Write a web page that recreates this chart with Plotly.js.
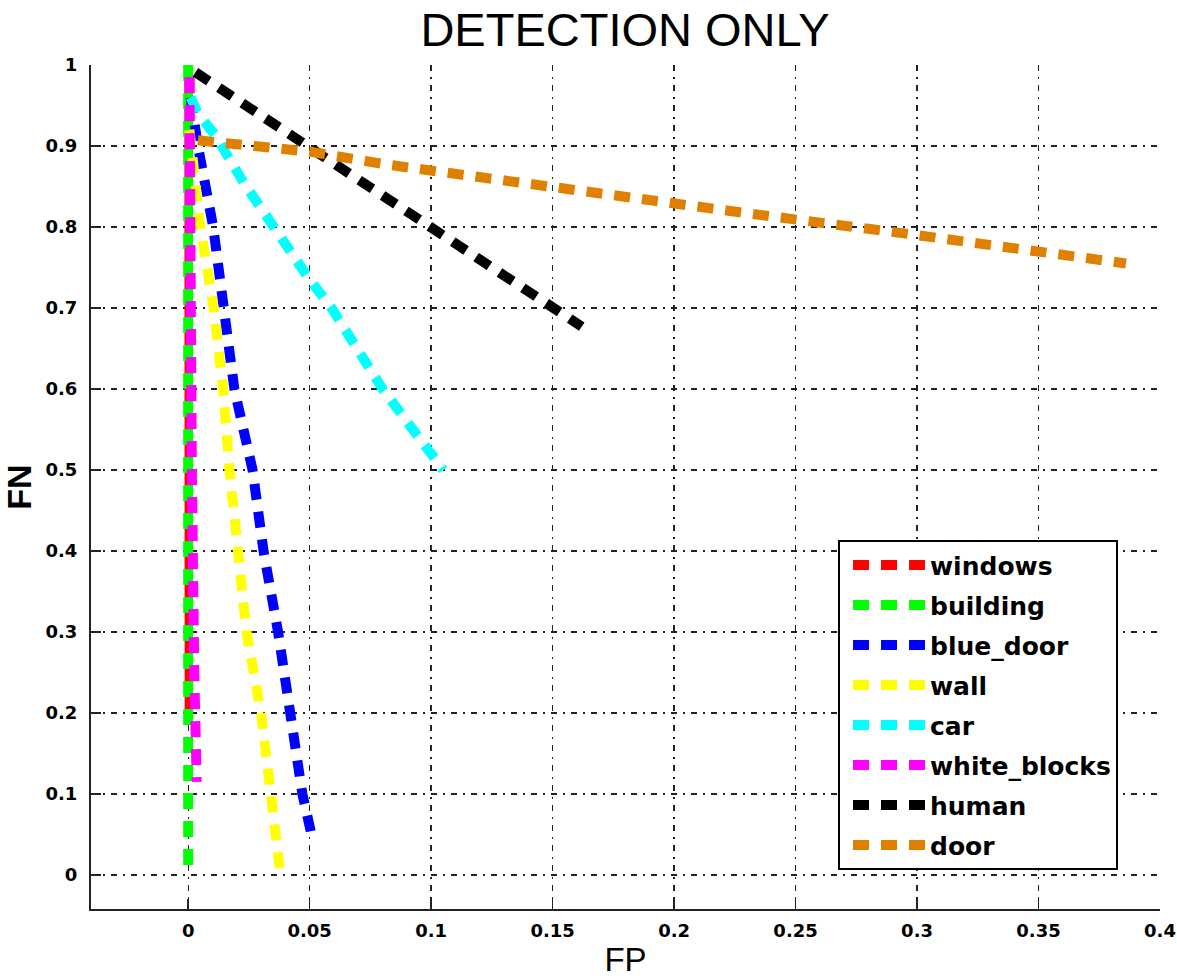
<!DOCTYPE html>
<html>
<head>
<meta charset="utf-8">
<script src="https://cdn.plot.ly/plotly-3.0.1.min.js"></script>
<style>html,body{margin:0;padding:0;background:#fff;}</style>
</head>
<body>
<div id="chart" style="width:1177px;height:978px;"></div>
<script>
// Series names and colours
const seriesNames = ["windows", "building", "blue_door", "wall", "car", "white_blocks", "human", "door"];
const seriesColors = ["#ff0000", "#00ff00", "#0000ff", "#ffff00", "#00ffff", "#ff00ff", "#000000", "#e08000"];

// Values (FP, FN)
const windowsFP = [0.0005, 0.0005, 0.0006, 0.0006];
const windowsFN = [0.985, 0.7, 0.4, 0.195];
const buildingFP = [0, 0, 0];
const buildingFN = [1, 0.5, 0];
const blueDoorFP = [0.001, 0.004, 0.0103, 0.015, 0.019, 0.0265, 0.031, 0.037, 0.042, 0.047, 0.0515];
const blueDoorFN = [0.96, 0.9, 0.8, 0.7, 0.6, 0.5, 0.4, 0.3, 0.2, 0.1, 0.04];
const wallFP = [0.0005, 0.005, 0.0105, 0.0144, 0.017, 0.021, 0.024, 0.030, 0.0337, 0.038];
const wallFN = [0.92, 0.8, 0.7, 0.6, 0.5, 0.4, 0.3, 0.2, 0.1, 0.0];
const carFP = [0.001, 0.004, 0.011, 0.023, 0.05, 0.059, 0.08, 0.105];
const carFN = [0.96, 0.94, 0.914, 0.854, 0.735, 0.7, 0.6, 0.5];
const whiteBlocksFP = [0.0005, 0.0008, 0.0015, 0.0025, 0.0035];
const whiteBlocksFN = [0.985, 0.75, 0.5, 0.25, 0.115];
const humanFP = [0.003, 0.05, 0.082, 0.103, 0.150, 0.162];
const humanFN = [0.991, 0.898, 0.836, 0.796, 0.700, 0.677];
const doorFP = [0.004, 0.02, 0.05, 0.082, 0.148, 0.23, 0.30, 0.386];
const doorFN = [0.907, 0.902, 0.893, 0.877, 0.849, 0.817, 0.790, 0.755];

// Tick labels
const xTickVals = [0, 0.05, 0.1, 0.15, 0.2, 0.25, 0.3, 0.35, 0.4];
const xTickText = ["0", "0.05", "0.1", "0.15", "0.2", "0.25", "0.3", "0.35", "0.4"];
const yTickVals = [0, 0.1, 0.2, 0.3, 0.4, 0.5, 0.6, 0.7, 0.8, 0.9, 1];
const yTickText = ["0", "0.1", "0.2", "0.3", "0.4", "0.5", "0.6", "0.7", "0.8", "0.9", "1"];

const xs = [windowsFP, buildingFP, blueDoorFP, wallFP, carFP, whiteBlocksFP, humanFP, doorFP];
const ys = [windowsFN, buildingFN, blueDoorFN, wallFN, carFN, whiteBlocksFN, humanFN, doorFN];

const traces = seriesNames.map((n, i) => ({
  type: "scatter",
  mode: "lines",
  name: n,
  legendgroup: n,
  x: xs[i],
  y: ys[i],
  line: {color: seriesColors[i], width: 10, dash: "16px,12px"}
}));

const gridStyle = {
  showgrid: true,
  gridcolor: "#222",
  gridwidth: 1.3,
  griddash: "6px,6px,2px,6px",
  zeroline: false,
  showline: true,
  linecolor: "#222",
  linewidth: 2,
  mirror: false,
  ticks: "inside",
  ticklen: 10,
  tickwidth: 1.5,
  tickcolor: "#222",
  tickfont: {family: "DejaVu Sans", size: 18, color: "#000", weight: "bold"}
};

const layout = {
  width: 1177,
  height: 978,
  margin: {l: 91, r: 17, t: 65, b: 69},
  paper_bgcolor: "#fff",
  plot_bgcolor: "#fff",
  showlegend: true,
  title: {
    text: "DETECTION ONLY",
    font: {family: "Liberation Sans", size: 47, color: "#000"},
    x: 0.531, xanchor: "center",
    y: 0.97, yref: "container", yanchor: "middle"
  },
  xaxis: Object.assign({}, gridStyle, {
    range: [-0.04, 0.4],
    tickvals: xTickVals,
    ticktext: xTickText,
    ticklabelstandoff: 4,
    title: {text: "FP", font: {family: "Liberation Sans", size: 33, color: "#000"}, standoff: 10}
  }),
  yaxis: Object.assign({}, gridStyle, {
    range: [-0.042, 1],
    tickvals: yTickVals,
    ticktext: yTickText,
    ticklabelstandoff: 8,
    title: {text: "FN", font: {family: "Liberation Sans", size: 34, color: "#000", weight: "bold"}, standoff: 14}
  }),
  legend: {
    x: 0.6988, y: 0.437, xanchor: "left", yanchor: "top",
    bgcolor: "#fff",
    bordercolor: "#000",
    borderwidth: 2,
    font: {family: "DejaVu Sans", size: 25, color: "#000", weight: "bold"},
    itemwidth: 72,
    indentation: 8,
    traceorder: "grouped",
    tracegroupgap: 4.5
  }
};

Plotly.newPlot("chart", traces, layout, {displayModeBar: false, staticPlot: true});
</script>
</body>
</html>
